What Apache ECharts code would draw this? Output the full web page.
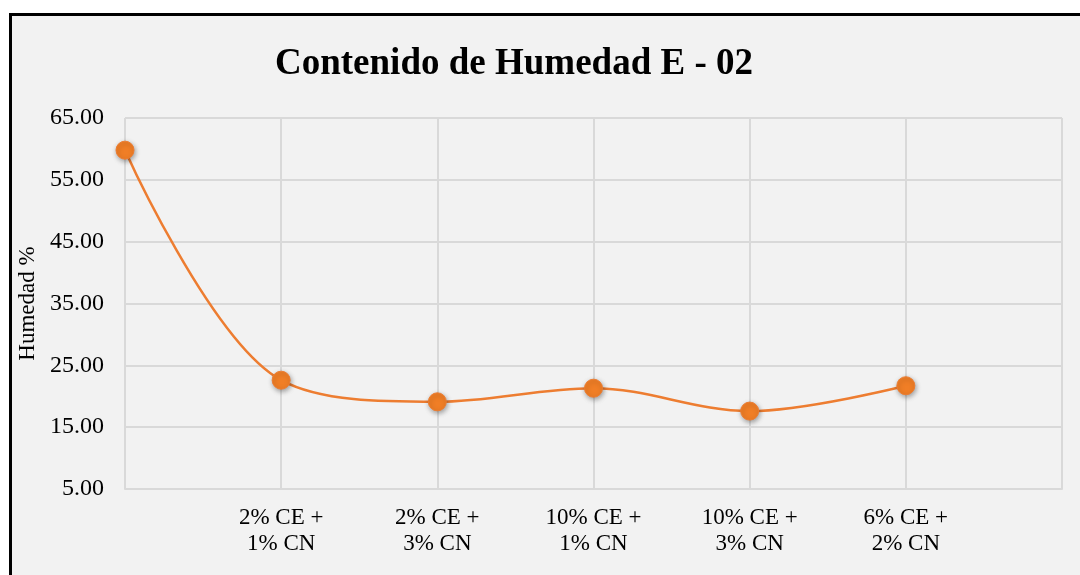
<!DOCTYPE html>
<html>
<head>
<meta charset="utf-8">
<script src="https://cdn.jsdelivr.net/npm/echarts@6/dist/echarts.min.js"></script>
<style>
  html, body { margin: 0; padding: 0; background: #fff; }
  #chart { width: 1080px; height: 575px; }
</style>
</head>
<body>
<div id="chart"></div>
<script>
// categories (first and last are empty slots, as in the original sheet)
const categories = ['', '2% CE +\n1% CN', '2% CE +\n3% CN', '10% CE +\n1% CN', '10% CE +\n3% CN', '6% CE +\n2% CN', ''];
// humedad %
const humedad = [59.8, 22.6, 19.1, 21.3, 17.6, 21.7, null];

const chart = echarts.init(document.getElementById('chart'));
const serif = 'Liberation Serif';

const option = {
  backgroundColor: '#fff',
  animation: false,
  graphic: [{
    type: 'rect',
    z: -10,
    silent: true,
    shape: { x: 10.5, y: 14.5, width: 1200, height: 700 },
    style: { fill: '#f2f2f2', stroke: '#000', lineWidth: 3 }
  }],
  title: {
    text: 'Contenido de Humedad E - 02',
    left: 270,
    top: 41,
    textStyle: {
      fontFamily: serif,
      fontWeight: 'bold',
      fontSize: 37,
      color: '#000'
    }
  },
  grid: {
    left: 125,
    right: 18,
    top: 118,
    bottom: 86
  },
  xAxis: {
    type: 'category',
    data: categories,
    boundaryGap: false,
    axisLine: { show: true, lineStyle: { color: '#d9d9d9', width: 2 } },
    axisTick: { show: false },
    axisLabel: {
      fontFamily: serif,
      fontSize: 23,
      color: '#000',
      lineHeight: 26,
      margin: 16
    },
    splitLine: { show: true, lineStyle: { color: '#d9d9d9', width: 2 } }
  },
  yAxis: {
    type: 'value',
    min: 5,
    max: 65,
    interval: 10,
    name: 'Humedad %',
    nameLocation: 'middle',
    nameGap: 78,
    nameRotate: 90,
    nameTextStyle: {
      fontFamily: serif,
      fontSize: 23,
      color: '#000'
    },
    axisLine: { show: false },
    axisTick: { show: false },
    axisLabel: {
      fontFamily: serif,
      fontSize: 24,
      color: '#000',
      margin: 21,
      formatter: v => v.toFixed(2)
    },
    splitLine: { show: true, lineStyle: { color: '#d9d9d9', width: 2 } }
  },
  series: [{
    name: 'Humedad',
    type: 'line',
    data: humedad,
    smooth: 0.35,
    symbol: 'circle',
    symbolSize: 18,
    lineStyle: { color: '#ED7D31', width: 2.5 },
    itemStyle: {
      color: '#F07E26',
      borderColor: '#ED7D31',
      borderWidth: 1,
      shadowColor: 'rgba(0,0,0,0.35)',
      shadowBlur: 5,
      shadowOffsetX: 1,
      shadowOffsetY: 2
    }
  }]
};

chart.setOption(option);
</script>
</body>
</html>
